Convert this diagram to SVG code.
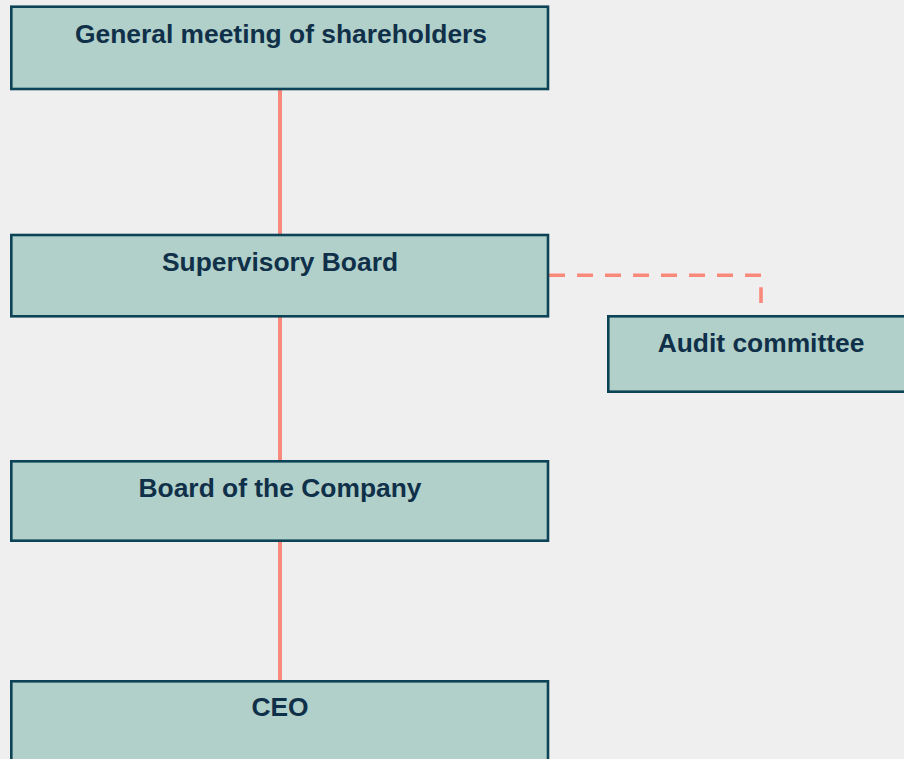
<svg xmlns="http://www.w3.org/2000/svg" width="904" height="759" viewBox="0 0 904 759">
<style>
.box{fill:#b0d0c9;stroke:#0c4356;stroke-width:2.6}
.lbl{font-family:"Liberation Sans",Arial,sans-serif;font-weight:bold;font-size:26.4px;fill:#10304a;text-anchor:middle}
.conn{stroke:#f98a7b;stroke-width:4;fill:none}
.dash{stroke:#f98a7b;stroke-width:3.6;fill:none;stroke-dasharray:16 12}
</style>
<rect x="0" y="0" width="904" height="759" fill="#efefef"/>
<g id="connectors">
<line class="conn" x1="280" y1="90" x2="280" y2="234"/>
<line class="conn" x1="280" y1="317" x2="280" y2="460"/>
<line class="conn" x1="280" y1="542" x2="280" y2="680"/>
<path class="dash" d="M549,275.3 H761 V303"/>
</g>
<g id="general-meeting">
<rect class="box" x="11.3" y="6.7" width="536.7" height="82.3"/>
<text class="lbl" x="281" y="43.3">General meeting of shareholders</text>
</g>
<g id="supervisory-board">
<rect class="box" x="11.3" y="235" width="536.7" height="81.3"/>
<text class="lbl" x="280" y="271">Supervisory Board</text>
</g>
<g id="audit-committee">
<rect class="box" x="608.3" y="316.3" width="306" height="75.4"/>
<text class="lbl" x="761" y="351.7">Audit committee</text>
</g>
<g id="board-company">
<rect class="box" x="11.3" y="461.3" width="536.7" height="79.4"/>
<text class="lbl" x="280" y="497">Board of the Company</text>
</g>
<g id="ceo">
<rect class="box" x="11.3" y="681.3" width="536.7" height="82"/>
<text class="lbl" x="280" y="716">CEO</text>
</g>
</svg>
